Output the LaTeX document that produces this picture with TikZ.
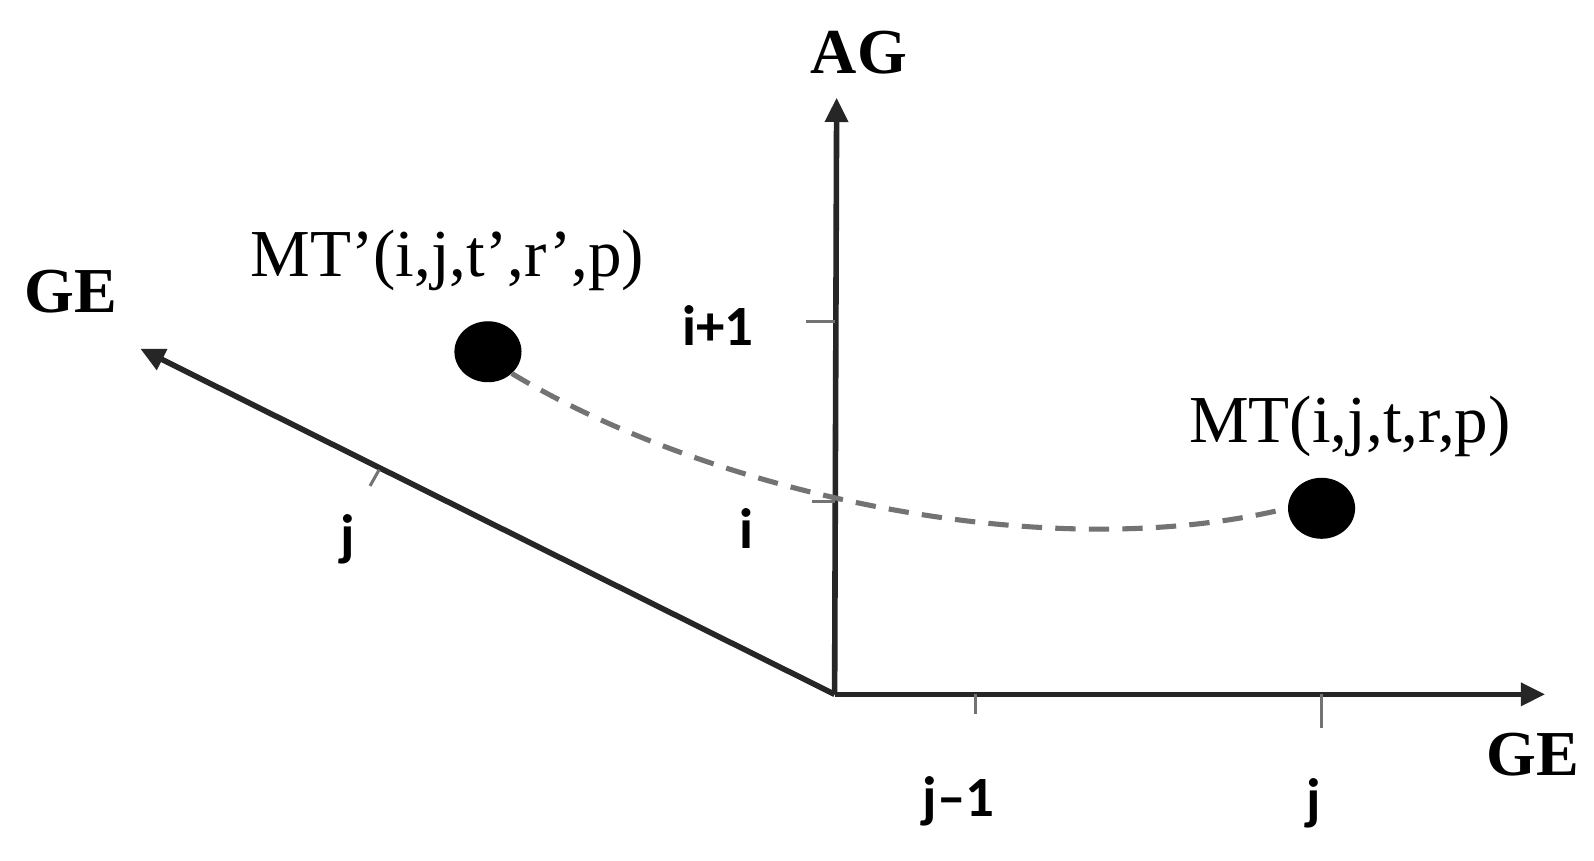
\documentclass[tikz,border=0pt]{standalone}
\usepackage{fontspec}
\setmainfont{Liberation Serif}
\newfontfamily\lblfont{Carlito}
\usetikzlibrary{arrows.meta,shapes.geometric}
\begin{document}
\begin{tikzpicture}[x=1pt,y=-1pt,
  axis/.style={line width=5.5pt,draw=black!85,-{Triangle[length=24pt,width=22pt]}},
  tickmark/.style={line width=3pt,draw=black!55},
  dot/.style={ellipse,fill=black,minimum width=66pt,minimum height=60pt,inner sep=0pt},
  pathline/.style={line width=5pt,draw=black!55,dash pattern=on 20pt off 13pt},
  serifbold/.style={font=\fontsize{63}{65}\selectfont\bfseries,inner sep=0pt},
  seriflabel/.style={font=\fontsize{66}{70}\selectfont,inner sep=0pt},
  ticklabel/.style={font=\lblfont\fontsize{56}{58}\selectfont\bfseries,inner sep=0pt}
]
\useasboundingbox (0,0) rectangle (1568,846);
\fill[white] (0,0) rectangle (1568,846);
% axes
\coordinate (O) at (821,683);
\coordinate (agtip) at (823,96);
\coordinate (getip) at (1520,683);
\coordinate (gdtip) at (138,343);
\draw[axis] (O) -- (agtip);
\draw[axis] (O) -- (getip);
\draw[axis] (O) -- (gdtip);
% ticks
\coordinate (t1a) at (793,316); \coordinate (t1b) at (821,316);
\draw[tickmark] (t1a) -- (t1b);
\coordinate (t2a) at (799,493); \coordinate (t2b) at (821,493);
\draw[tickmark] (t2a) -- (t2b);
\coordinate (t3a) at (960,683); \coordinate (t3b) at (960,702);
\draw[tickmark] (t3a) -- (t3b);
\coordinate (t4a) at (1300,683); \coordinate (t4b) at (1300,716);
\draw[tickmark] (t4a) -- (t4b);
\coordinate (t5a) at (373,462); \coordinate (t5b) at (364,478);
\draw[tickmark] (t5a) -- (t5b);
% axis labels
\node[serifbold] (agl) at (845,52) {AG};
\node[serifbold] (gel) at (70,287) {GE};
\node[serifbold] (ger) at (1508,742) {GE};
% tick labels
\node[ticklabel,anchor=base] (lip1) at (706,340) {i+1};
\node[ticklabel,anchor=base] (li) at (734,540) {i};
\node[ticklabel,anchor=base] (ljm1) at (943,803) {j–1};
\node[ticklabel,anchor=base] (lj) at (1292,805) {j};
\node[ticklabel,anchor=base] (ljd) at (342,545) {j};
% points
\node[dot] (mtp) at (480,346) {};
\node[dot] (mt) at (1300,500) {};
\node[seriflabel,anchor=base] (mtpl) at (440,272) {MT’(i,j,t’,r’,p)};
\node[seriflabel,anchor=base] (mtl) at (1328,435) {MT(i,j,t,r,p)};
% dashed trajectory
\draw[pathline] (mtp.south east) .. controls (690,480) and (1020,560) .. (mt.west);
\end{tikzpicture}
\end{document}
